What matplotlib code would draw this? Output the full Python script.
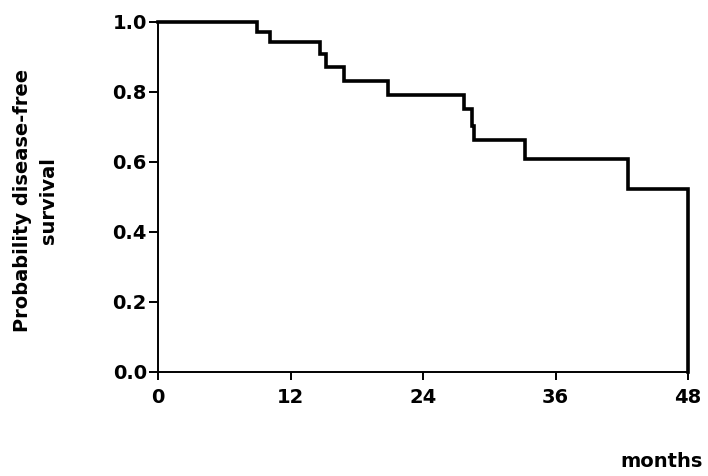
import numpy as np
import matplotlib
matplotlib.use("Agg")
import matplotlib.pyplot as plt

# Kaplan-Meier disease-free survival
event_months = [0, 9.0, 10.1, 14.65, 15.2, 16.8, 20.8, 27.7, 28.4, 28.6, 33.2, 42.6]
survival = [1.0, 0.970, 0.942, 0.909, 0.871, 0.831, 0.791, 0.751, 0.704, 0.662, 0.608, 0.522]
follow_up_end = 48

x_ticks = [0, 12, 24, 36, 48]
y_ticks = [0.0, 0.2, 0.4, 0.6, 0.8, 1.0]

plt.rcParams['font.family'] = ['DejaVu Sans']
plt.rcParams['font.weight'] = 'bold'

fig = plt.figure(figsize=(7.08, 4.76), dpi=100)
ax = fig.add_axes([0.2232, 0.2185, 0.7486, 0.7353])

# step curve, with the drop at the end of follow-up
xs = list(event_months) + [follow_up_end, follow_up_end]
ys = list(survival) + [survival[-1], 0.0]
ax.step(xs, ys, where='post', color='black', linewidth=2.6, clip_on=False,
        solid_joinstyle='miter')

ax.set_xlim(0, 48)
ax.set_ylim(0, 1.0)
ax.set_xticks(x_ticks)
ax.set_yticks(y_ticks)
ax.set_xticklabels([str(t) for t in x_ticks], fontsize=14, fontweight='bold')
ax.set_yticklabels([f"{t:.1f}" for t in y_ticks], fontsize=14, fontweight='bold')

for side in ['top', 'right']:
    ax.spines[side].set_visible(False)
for side in ['left', 'bottom']:
    ax.spines[side].set_linewidth(1.4)

ax.tick_params(axis='x', direction='out', length=5.5, width=1.4, pad=6)
ax.tick_params(axis='y', direction='out', length=6.5, width=1.4, pad=1.5)

fig.text(0.050, 0.578, "Probability disease-free\nsurvival", rotation=90,
         ha='center', va='center', fontsize=14, fontweight='bold',
         multialignment='center', linespacing=1.45)
fig.text(0.992, 0.031, "months", ha='right', va='center', fontsize=14,
         fontweight='bold')

fig.savefig("out.png", dpi=100)
